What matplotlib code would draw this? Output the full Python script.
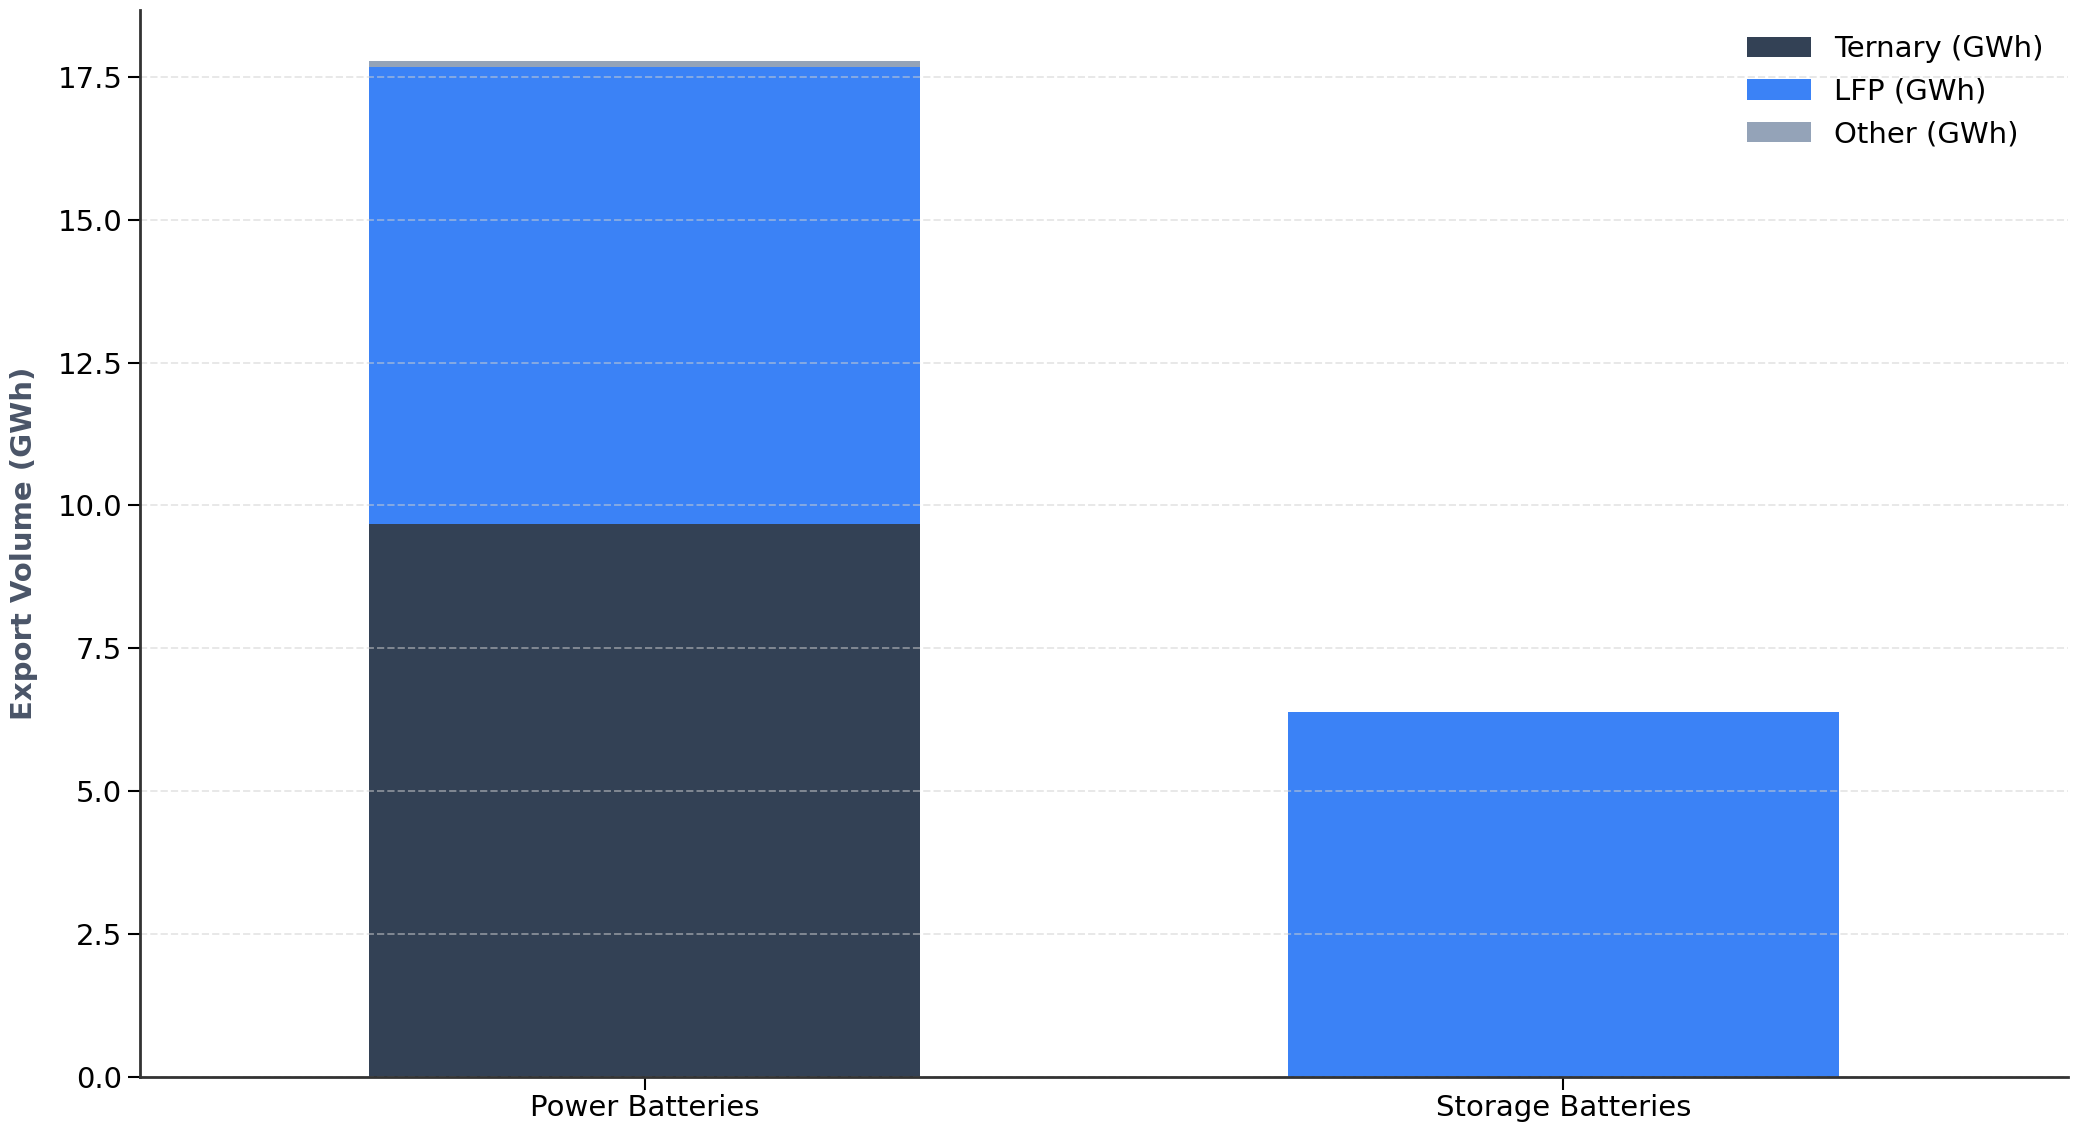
import numpy as np
import matplotlib.pyplot as plt

# data
categories = ["Power Batteries", "Storage Batteries"]
ternary = [9.68, 0.0]
lfp = [8.0, 6.38]
other = [0.1, 0.0]

fig = plt.figure(figsize=(20.83, 11.32), dpi=100)
ax = fig.add_axes([0.067, 0.049, 0.926, 0.942])

x = np.arange(len(categories))
w = 0.6
ax.bar(x, ternary, w, color="#334155", label="Ternary (GWh)")
ax.bar(x, lfp, w, bottom=ternary, color="#3b82f6", label="LFP (GWh)")
bottom2 = np.array(ternary) + np.array(lfp)
ax.bar(x, other, w, bottom=bottom2, color="#94a3b8", label="Other (GWh)")

ax.set_xticks(x)
ax.set_xticklabels(categories, fontsize=21)
ax.set_xlim(-0.55, 1.55)
ax.set_yticks(np.arange(0, 17.6, 2.5))
ax.tick_params(axis="y", labelsize=21, length=9, width=1.5)
ax.tick_params(axis="x", length=9, width=1.5)
ax.set_ylabel("Export Volume (GWh)", fontsize=21, fontweight="bold", color="#4a5568", labelpad=14)

ax.yaxis.grid(True, linestyle="--", color="#d0d0d0", alpha=0.5, linewidth=1.4)
ax.spines["top"].set_visible(False)
ax.spines["right"].set_visible(False)
ax.spines["left"].set_linewidth(2)
ax.spines["bottom"].set_linewidth(2)
ax.spines["left"].set_color("#333333")
ax.spines["bottom"].set_color("#333333")

ax.legend(loc="upper right", frameon=False, fontsize=21, handlelength=2.2, handleheight=0.7,
          borderaxespad=0.45)

fig.savefig("out.png", dpi=100)
